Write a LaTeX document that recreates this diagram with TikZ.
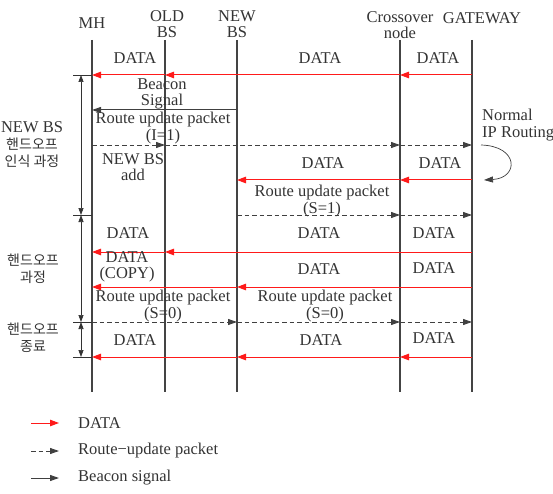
\documentclass[tikz,border=0pt]{standalone}
\usepackage{fontspec}
\setmainfont{Liberation Serif}
\newfontfamily\kr{Noto Sans CJK KR}
\usetikzlibrary{arrows.meta}
\definecolor{txt}{HTML}{333333}
\definecolor{life}{HTML}{444444}
\definecolor{dat}{HTML}{FF1A1A}
\definecolor{rupc}{HTML}{404040}
\begin{document}
\begin{tikzpicture}[x=1pt,y=-1pt,
  lbl/.style={font=\fontsize{16.5}{16.5}\selectfont, text=txt, inner sep=0pt, align=center},
  krl/.style={font=\fontsize{14}{17}\selectfont, text=txt, inner sep=0pt, align=center},
  lifeline/.style={draw=life, line width=1.7pt},
  dah/.style={draw=dat, line width=1pt, -{Triangle[length=9pt,width=6.5pt]}},
  ruh/.style={draw=rupc, line width=0.9pt, dash pattern=on 4.5pt off 3pt, -{Triangle[length=9pt,width=6pt]}},
  bch/.style={draw=rupc, line width=1pt, -{Triangle[length=9pt,width=6pt]}},
  brk/.style={draw=black!80, line width=0.7pt},
  brka/.style={brk, {Triangle[length=7pt,width=5pt]}-{Triangle[length=7pt,width=5pt]}}
]
\useasboundingbox (0,0) rectangle (553,494);

% lifeline heads
\node[lbl] (mh) at (92,23) {MH};
\node[lbl] (ob) at (167,24) {OLD\\BS};
\node[lbl] (nb) at (237,24) {NEW\\BS};
\node[lbl] (cx) at (400,25) {Crossover\\node};
\node[lbl] (gw) at (482,18) {GATEWAY};

% lifelines
\coordinate (mhT) at (92,40);  \coordinate (mhB) at (92,392);
\coordinate (obT) at (165,40); \coordinate (obB) at (165,392);
\coordinate (nbT) at (237,40); \coordinate (nbB) at (237,392);
\coordinate (cxT) at (400,40); \coordinate (cxB) at (400,392);
\coordinate (gwT) at (472,40); \coordinate (gwB) at (472,392);
\draw[lifeline] (mhT) -- (mhB);
\draw[lifeline] (obT) -- (obB);
\draw[lifeline] (nbT) -- (nbB);
\draw[lifeline] (cxT) -- (cxB);
\draw[lifeline] (gwT) -- (gwB);

% message levels
\coordinate (r1) at (0,75);
\coordinate (r2) at (0,110);
\coordinate (r3) at (0,145);
\coordinate (r4) at (0,180);
\coordinate (r5) at (0,215);
\coordinate (r6) at (0,252);
\coordinate (r7) at (0,287);
\coordinate (r8) at (0,322);
\coordinate (r9) at (0,357);

% 1: DATA
\draw[dah] (gwT |- r1) -- (cxT |- r1);
\draw[dah] (cxT |- r1) -- (obT |- r1);
\draw[dah] (obT |- r1) -- (mhT |- r1);
\node[lbl] (d1a) at (135,58) {DATA};
\node[lbl] (d1b) at (320,58) {DATA};
\node[lbl] (d1c) at (438,58) {DATA};

% 2: Beacon
\draw[bch] (nbT |- r2) -- (mhT |- r2);
\node[lbl] (bs) at (162,94) {Beacon\\Signal};

% 3: Route update I=1
\draw[ruh] (mhT |- r3) -- (obT |- r3);
\draw[ruh] (obT |- r3) -- (cxT |- r3);
\draw[ruh] (cxT |- r3) -- (gwT |- r3);
\node[lbl] (ru1) at (163,128) {Route update packet\\(I=1)};
\node[lbl] (add) at (133,167) {NEW BS\\add};

% 4: DATA to NEW BS
\draw[dah] (gwT |- r4) -- (cxT |- r4);
\draw[dah] (cxT |- r4) -- (nbT |- r4);
\node[lbl] (d4a) at (323,163) {DATA};
\node[lbl] (d4b) at (440,163) {DATA};

% 5: Route update S=1
\draw[ruh] (nbT |- r5) -- (cxT |- r5);
\draw[ruh] (cxT |- r5) -- (gwT |- r5);
\node[lbl] (ru2) at (322,201) {Route update packet\\(S=1)};

% Normal IP routing
\node[lbl, align=left, anchor=west] (nip) at (482,125) {Normal\\IP Routing};
\coordinate (ipS) at (481,145);
\coordinate (ipE) at (484,180);
\draw[bch, line width=0.7pt] (ipS) .. controls (519,146) and (519,178) .. (ipE);

% 6: DATA
\draw[dah] (gwT |- r6) -- (obT |- r6);
\draw[dah] (obT |- r6) -- (mhT |- r6);
\node[lbl] (d6a) at (128,233) {DATA};
\node[lbl] (d6b) at (319,233) {DATA};
\node[lbl] (d6c) at (434,233) {DATA};

% 7: DATA (COPY)
\draw[dah] (gwT |- r7) -- (nbT |- r7);
\draw[dah] (nbT |- r7) -- (mhT |- r7);
\node[lbl] (d7a) at (127,267) {DATA\\(COPY)};
\node[lbl] (d7b) at (319,269) {DATA};
\node[lbl] (d7c) at (434,268) {DATA};

% 8: Route update S=0
\draw[ruh] (mhT |- r8) -- (nbT |- r8);
\draw[ruh] (nbT |- r8) -- (cxT |- r8);
\draw[ruh] (cxT |- r8) -- (gwT |- r8);
\node[lbl] (ru3) at (163,306) {Route update packet\\(S=0)};
\node[lbl] (ru4) at (325,306) {Route update packet\\(S=0)};

% 9: DATA
\draw[dah] (gwT |- r9) -- (cxT |- r9);
\draw[dah] (cxT |- r9) -- (nbT |- r9);
\draw[dah] (nbT |- r9) -- (mhT |- r9);
\node[lbl] (d9a) at (135,340) {DATA};
\node[lbl] (d9b) at (321,340) {DATA};
\node[lbl] (d9c) at (434,338) {DATA};

% phase brackets
\coordinate (t1) at (73,75);
\coordinate (t2) at (73,215);
\coordinate (t3) at (73,322);
\coordinate (t4) at (73,357);
\draw[brk] (t1) -- (mhT |- t1);
\draw[brk] (t2) -- (mhT |- t2);
\draw[brk] (t3) -- (mhT |- t3);
\draw[brk] (t4) -- (mhT |- t4);
\coordinate (b1) at (81,75);
\coordinate (b2) at (81,215);
\coordinate (b3) at (81,322);
\coordinate (b4) at (81,357);
\draw[brka] (b1) -- (b2);
\draw[brka] (b2) -- (b3);
\draw[brka] (b3) -- (b4);
\node[krl] (p1) at (32,145) {\fontsize{16.5}{17}\selectfont NEW BS\\{\kr 핸드오프}\\{\kr 인식 과정}};
\node[krl] (p2) at (33,269) {\kr 핸드오프\\\kr 과정};
\node[krl] (p3) at (33,338) {\kr 핸드오프\\\kr 종료};

% legend
\coordinate (l1a) at (31,423); \coordinate (l1b) at (59,423);
\coordinate (l2a) at (31,451); \coordinate (l2b) at (59,451);
\coordinate (l3a) at (31,478); \coordinate (l3b) at (59,478);
\draw[dah] (l1a) -- (l1b);
\draw[ruh] (l2a) -- (l2b);
\draw[bch] (l3a) -- (l3b);
\node[lbl, anchor=west] (lg1) at (78,423) {DATA};
\node[lbl, anchor=west] (lg2) at (78,451) {Route−update packet};
\node[lbl, anchor=west] (lg3) at (78,478) {Beacon signal};
\end{tikzpicture}
\end{document}
